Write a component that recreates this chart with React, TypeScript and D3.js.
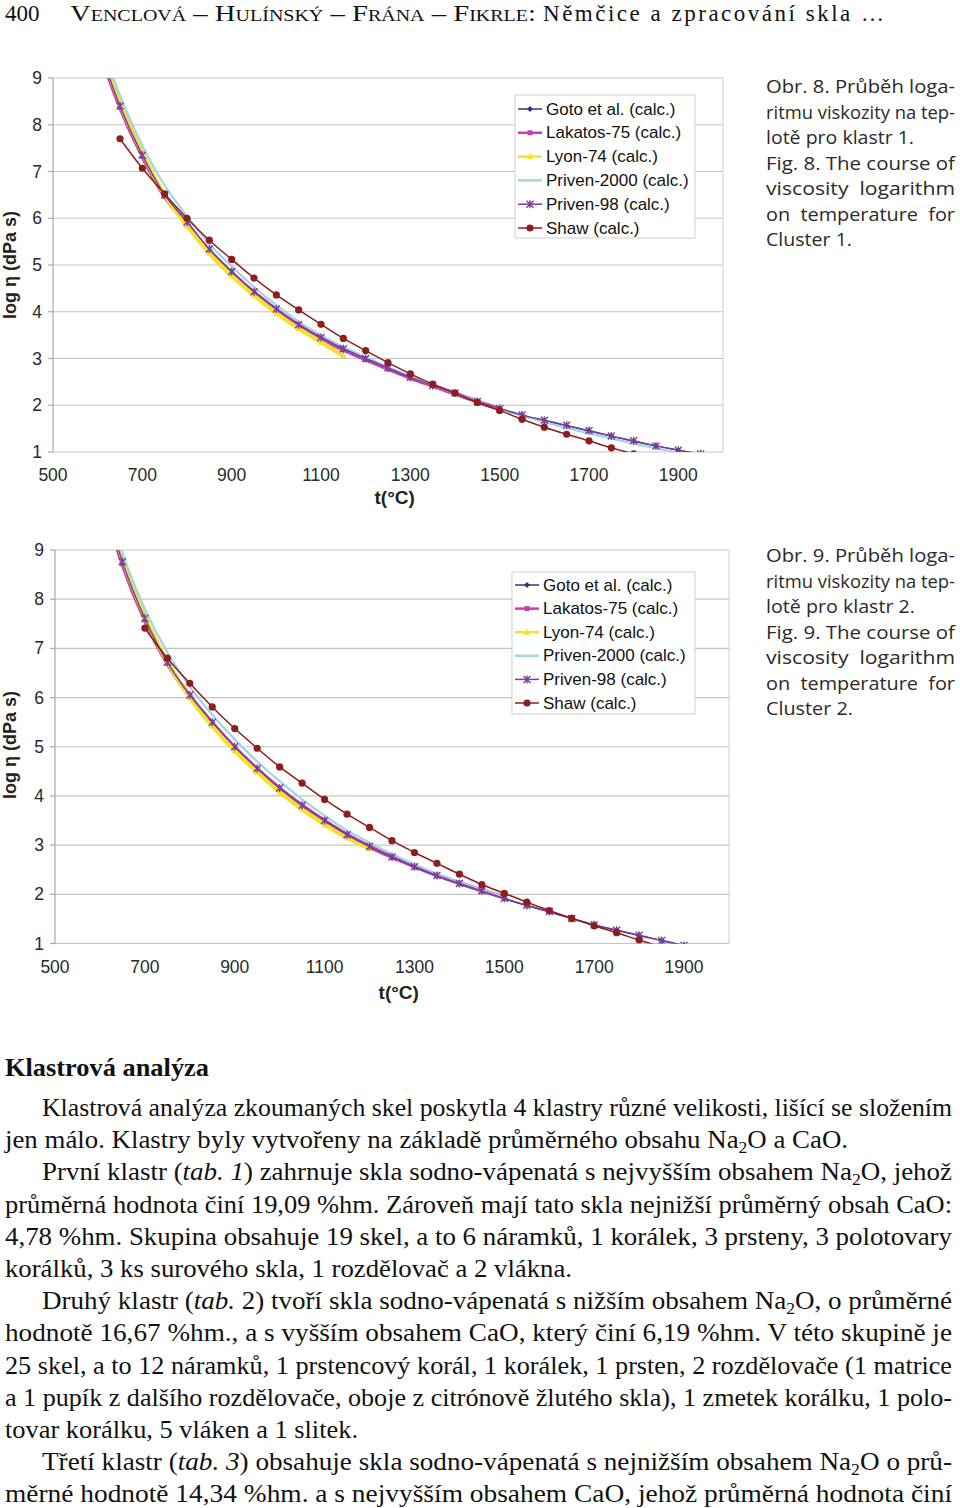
import React from 'react';
import * as d3 from 'd3';

// ---------- DATA ----------
const temps = [600, 650, 700, 750, 800, 850, 900, 950, 1000, 1050, 1100, 1150, 1200, 1250, 1300, 1350, 1400, 1450, 1500, 1550, 1600, 1650, 1700, 1750, 1800, 1850, 1900, 1950];
const xTicks = [500, 700, 900, 1100, 1300, 1500, 1700, 1900];
const yTicks = [1, 2, 3, 4, 5, 6, 7, 8, 9];
const seriesNames = ['Goto et al. (calc.)', 'Lakatos-75 (calc.)', 'Lyon-74 (calc.)', 'Priven-2000 (calc.)', 'Priven-98 (calc.)', 'Shaw (calc.)'];

// Fig. 8 – Cluster 1
const goto8 = [9.70, 8.37, 7.32, 6.48, 5.89, 5.31, 4.84, 4.41, 4.04, 3.70, 3.43, 3.19, 2.98, 2.78, 2.59, 2.41, 2.25, 2.08, 1.93, 1.79, 1.67, 1.56, 1.45, 1.34, 1.23, 1.13, 1.04, 0.95];
const lakatos8 = [9.72, 8.38, 7.33, 6.47, 5.88, 5.30, 4.83, 4.41, 4.04, 3.71, 3.43, 3.19, 2.98, 2.78, 2.59, 2.42, 2.25, 2.08, 1.92, null, null, null, null, null, null, null, null, null];
const lyon8 = [9.85, 8.46, 7.40, 6.50, 5.84, 5.25, 4.77, 4.35, 3.97, 3.64, 3.35, 3.06, null, null, null, null, null, null, null, null, null, null, null, null, null, null, null, null];
const priven2000_8 = [10.0, 8.62, 7.55, 6.70, 6.05, 5.45, 4.97, 4.53, 4.14, 3.79, 3.50, 3.25, 3.03, 2.82, 2.62, 2.43, 2.26, 2.09, 1.92, 1.77, 1.64, 1.52, 1.40, 1.29, 1.18, 1.08, 0.99, null];
const priven98_8 = [9.75, 8.40, 7.35, 6.50, 5.92, 5.34, 4.86, 4.43, 4.06, 3.72, 3.45, 3.21, 3.00, 2.80, 2.60, 2.42, 2.26, 2.08, 1.93, 1.79, 1.68, 1.57, 1.46, 1.34, 1.24, 1.13, 1.04, 0.96];
const shaw8 = [null, 7.70, 7.07, 6.52, 6.00, 5.53, 5.12, 4.72, 4.36, 4.04, 3.73, 3.43, 3.17, 2.91, 2.67, 2.45, 2.26, 2.06, 1.89, 1.70, 1.53, 1.38, 1.24, 1.09, 0.96, null, null, null];

// Fig. 9 – Cluster 2
const goto9 = [10.35, 8.73, 7.58, 6.70, 6.03, 5.48, 4.98, 4.54, 4.14, 3.79, 3.48, 3.20, 2.96, 2.75, 2.55, 2.37, 2.21, 2.06, 1.91, 1.77, 1.64, 1.51, 1.38, 1.27, 1.16, 1.06, 0.96, 0.86];
const lakatos9 = [10.3, 8.72, 7.58, 6.70, 6.03, 5.48, 4.98, 4.54, 4.15, 3.80, 3.49, 3.21, 2.97, 2.76, 2.57, 2.39, 2.23, 2.08, 1.94, null, null, null, null, null, null, null, null, null];
const lyon9 = [10.5, 8.82, 7.65, 6.73, 6.00, 5.42, 4.92, 4.48, 4.08, 3.73, 3.42, 3.15, 2.93, null, null, null, null, null, null, null, null, null, null, null, null, null, null, null];
const priven2000_9 = [10.7, 8.95, 7.80, 6.92, 6.22, 5.65, 5.15, 4.70, 4.30, 3.93, 3.60, 3.30, 3.05, 2.82, 2.61, 2.42, 2.25, 2.09, 1.94, null, null, null, null, null, null, null, null, null];
const priven98_9 = [10.4, 8.76, 7.61, 6.72, 6.05, 5.50, 5.00, 4.56, 4.16, 3.81, 3.50, 3.21, 2.97, 2.76, 2.56, 2.38, 2.22, 2.07, 1.92, 1.78, 1.65, 1.51, 1.38, 1.27, 1.17, 1.06, 0.96, 0.86];
const shaw9 = [null, null, 7.41, 6.80, 6.29, 5.81, 5.37, 4.97, 4.59, 4.26, 3.93, 3.63, 3.36, 3.09, 2.85, 2.63, 2.41, 2.20, 2.02, 1.84, 1.67, 1.51, 1.36, 1.22, 1.07, 0.93, null, null];

// ---------- TEXT ----------
const captionFig8 = ['Obr. 8. Průběh loga-', 'ritmu viskozity na tep-', 'lotě pro klastr 1.', 'Fig. 8. The course of', 'viscosity  logarithm', 'on  temperature  for', 'Cluster 1.'];
const captionFig9 = ['Obr. 9. Průběh loga-', 'ritmu viskozity na tep-', 'lotě pro klastr 2.', 'Fig. 9. The course of', 'viscosity  logarithm', 'on  temperature  for', 'Cluster 2.'];
const bodyLines = [
  'Klastrová analýza zkoumaných skel poskytla 4 klastry různé velikosti, lišící se složením',
  'jen málo. Klastry byly vytvořeny na základě průměrného obsahu Na₂O a CaO.',
  'První klastr (*tab. 1*) zahrnuje skla sodno-vápenatá s nejvyšším obsahem Na₂O, jehož',
  'průměrná hodnota činí 19,09 %hm. Zároveň mají tato skla nejnižší průměrný obsah CaO:',
  '4,78 %hm. Skupina obsahuje 19 skel, a to 6 náramků, 1 korálek, 3 prsteny, 3 polotovary',
  'korálků, 3 ks surového skla, 1 rozdělovač a 2 vlákna.',
  'Druhý klastr (*tab.* 2) tvoří skla sodno-vápenatá s nižším obsahem Na₂O, o průměrné',
  'hodnotě 16,67 %hm., a s vyšším obsahem CaO, který činí 6,19 %hm. V této skupině je',
  '25 skel, a to 12 náramků, 1 prstencový korál, 1 korálek, 1 prsten, 2 rozdělovače (1 matrice',
  'a 1 pupík z dalšího rozdělovače, oboje z citrónově žlutého skla), 1 zmetek korálku, 1 polo-',
  'tovar korálku, 5 vláken a 1 slitek.',
  'Třetí klastr (*tab. 3*) obsahuje skla sodno-vápenatá s nejnižším obsahem Na₂O o prů-',
  'měrné hodnotě 14,34 %hm. a s nejvyšším obsahem CaO, jehož průměrná hodnota činí',
];

// ---------- STYLES ----------
type MarkerType = 'diamond' | 'square' | 'triangle' | 'none' | 'star' | 'circle';
const styles: { color: string; width: number; marker: MarkerType }[] = [
  { color: '#34347e', width: 1.4, marker: 'diamond' },
  { color: '#c23fb0', width: 4.2, marker: 'square' },
  { color: '#f3e22c', width: 4.2, marker: 'triangle' },
  { color: '#9ed6e6', width: 2.2, marker: 'none' },
  { color: '#7a3d98', width: 1.4, marker: 'star' },
  { color: '#8e1e1e', width: 1.5, marker: 'circle' },
];

const SANS = '"Liberation Sans", Arial, sans-serif';
const SERIF = '"Liberation Serif", "Times New Roman", serif';
const CAPSANS = '"Open Sans", "Noto Sans", sans-serif';

function Marker({ type, x, y, color }: { type: MarkerType; x: number; y: number; color: string }) {
  if (type === 'circle') return <circle cx={x} cy={y} r={3.6} fill={color} />;
  if (type === 'square') return <rect x={x - 2.5} y={y - 2.5} width={5} height={5} fill={color} />;
  if (type === 'diamond') return <path d={`M${x},${y - 3}L${x + 3},${y}L${x},${y + 3}L${x - 3},${y}Z`} fill={color} />;
  if (type === 'triangle') return <path d={`M${x},${y - 3.5}L${x + 3.5},${y + 2.5}L${x - 3.5},${y + 2.5}Z`} fill={color} />;
  if (type === 'star')
    return (
      <path
        d={`M${x - 3.5},${y - 3.5}L${x + 3.5},${y + 3.5}M${x - 3.5},${y + 3.5}L${x + 3.5},${y - 3.5}M${x},${y - 4}L${x},${y + 4}`}
        stroke={color}
        strokeWidth={1.4}
      />
    );
  return null;
}

type ChartProps = {
  id: string;
  data: (number | null)[][];
  left: number; right: number; top: number; bottom: number;
  legend: { x0: number; x1: number; y0: number; y1: number; row0: number; step: number };
  xLabelY: number; tLabelY: number; yLabelY: number; yTickRight: number;
};

function Chart(p: ChartProps) {
  const x = d3.scaleLinear().domain([500, 2000]).range([p.left, p.right]);
  const y = d3.scaleLinear().domain([1, 9]).range([p.bottom, p.top]);
  const line = d3
    .line<[number, number | null]>()
    .defined((d) => d[1] !== null)
    .x((d) => x(d[0]))
    .y((d) => y(d[1] as number))
    .curve(d3.curveCatmullRom.alpha(0.5));
  const clipId = `clip-${p.id}`;
  return (
    <g>
      <defs>
        <clipPath id={clipId}>
          <rect x={p.left} y={p.top} width={p.right - p.left} height={p.bottom - p.top} />
        </clipPath>
      </defs>
      <rect x={p.left} y={p.top} width={p.right - p.left} height={p.bottom - p.top} fill="#fff" />
      {yTicks.map((t) => (
        <line key={t} x1={p.left} x2={p.right} y1={y(t)} y2={y(t)} stroke="#c4c4c4" strokeWidth={1.2} />
      ))}
      <line x1={p.right} x2={p.right} y1={p.top} y2={p.bottom} stroke="#d0d0d0" strokeWidth={1} />
      <line x1={p.left} x2={p.left} y1={p.top} y2={p.bottom} stroke="#a8a8a8" strokeWidth={1.2} />
      {yTicks.map((t) => (
        <line key={'tk' + t} x1={p.left - 5} x2={p.left} y1={y(t)} y2={y(t)} stroke="#a8a8a8" strokeWidth={1.2} />
      ))}
      {yTicks.map((t) => (
        <text key={'yl' + t} x={p.yTickRight} y={y(t)} dominantBaseline="central" textAnchor="end" fontFamily={SANS} fontSize={17.5} fill="#2a2a2a">
          {t}
        </text>
      ))}
      {xTicks.map((t) => (
        <text key={'xl' + t} x={x(t)} y={p.xLabelY} textAnchor="middle" fontFamily={SANS} fontSize={17.5} fill="#2a2a2a">
          {t}
        </text>
      ))}
      <text x={x(1265)} y={p.tLabelY} textAnchor="middle" fontFamily={SANS} fontSize={19} fontWeight="bold" fill="#222">
        t(°C)
      </text>
      <text transform={`translate(16,${p.yLabelY}) rotate(-90)`} textAnchor="middle" fontFamily={SANS} fontSize={18} fontWeight="bold" fill="#222">
        log η (dPa s)
      </text>
      <g clipPath={`url(#${clipId})`}>
        {p.data.map((vals, i) => {
          const pts = temps.map((t, k) => [t, vals[k]] as [number, number | null]);
          return (
            <g key={i}>
              <path d={line(pts) || ''} fill="none" stroke={styles[i].color} strokeWidth={styles[i].width} strokeLinejoin="round" />
              {pts
                .filter((d) => d[1] !== null)
                .map((d, k) => (
                  <Marker key={k} type={styles[i].marker} x={x(d[0])} y={y(d[1] as number)} color={styles[i].color} />
                ))}
            </g>
          );
        })}
      </g>
      <rect x={p.legend.x0} y={p.legend.y0} width={p.legend.x1 - p.legend.x0} height={p.legend.y1 - p.legend.y0} fill="#fff" stroke="#cfcfcf" strokeWidth={1} />
      {seriesNames.map((n, i) => {
        const ly = p.legend.row0 + i * p.legend.step;
        const lx = p.legend.x0 + 3;
        return (
          <g key={n}>
            <line x1={lx} x2={lx + 24} y1={ly} y2={ly} stroke={styles[i].color} strokeWidth={i === 1 || i === 2 || i === 3 ? 2.5 : 1.5} />
            <Marker type={styles[i].marker} x={lx + 12} y={ly} color={styles[i].color} />
            <text x={lx + 28} y={ly} dominantBaseline="central" fontFamily={SANS} fontSize={17} fill="#111">
              {n}
            </text>
          </g>
        );
      })}
    </g>
  );
}

function BodyLine({ text, x0, x1, y }: { text: string; x0: number; x1: number; y: number }) {
  const parts = text.split(/(\*[^*]+\*|₂)/).filter((s) => s.length);
  const kids: React.ReactNode[] = [];
  let sub = false;
  parts.forEach((s, i) => {
    if (s === '₂') {
      kids.push(
        <tspan key={i} fontSize={17} dy={5}>
          2
        </tspan>
      );
      sub = true;
    } else {
      const it = s.startsWith('*');
      const t = it ? s.slice(1, -1) : s;
      kids.push(
        <tspan key={i} fontStyle={it ? 'italic' : undefined} dy={sub ? -5 : undefined}>
          {t}
        </tspan>
      );
      sub = false;
    }
  });
  return (
    <text x={x0} y={y} fontFamily={SERIF} fontSize={26} fill="#111" textLength={x1 - x0} lengthAdjust="spacingAndGlyphs">
      {kids}
    </text>
  );
}

function Caption({ lines, top, ends }: { lines: string[]; top: number; ends: number[] }) {
  return (
    <g>
      {lines.map((l, i) => (
        <text
          key={i}
          x={766}
          y={top + i * 25.5}
          fontFamily={CAPSANS}
          fontSize={18.5}
          fill="#2a2a2a"
          textLength={ends[i] - 766}
          lengthAdjust="spacingAndGlyphs"
          style={{ whiteSpace: 'pre' }}
        >
          {l}
        </text>
      ))}
    </g>
  );
}

export default function App() {
  const capEnds1 = [955, 955, 914, 955, 955, 955, 852];
  const capEnds2 = [955, 955, 915, 955, 955, 955, 853];
  const bodyGeom = [
    [42, 952], [5, 848], [42, 952], [5, 952], [5, 952], [5, 572], [42, 952], [5, 952], [5, 952], [5, 952], [5, 358], [42, 952], [5, 952],
  ];
  return (
    <svg width={960} height={1508} style={{ position: 'absolute', left: 0, top: 0, background: '#fff' }}>
      <rect width={960} height={1508} fill="#fff" />
      {/* header */}
      <text x={5} y={21} fontFamily={SERIF} fontSize={23} fill="#111">400</text>
      <text x={70} y={21} fontFamily={SERIF} fontSize={23} fill="#111" style={{ fontVariant: 'small-caps' }} textLength={466} lengthAdjust="spacingAndGlyphs">
        Venclová – Hulínský – Frána – Fikrle:
      </text>
      <text x={543} y={21} fontFamily={SERIF} fontSize={23} fill="#111" textLength={341} lengthAdjust="spacing">
        Němčice a zpracování skla …
      </text>

      <Chart
        id="c1"
        data={[goto8, lakatos8, lyon8, priven2000_8, priven98_8, shaw8]}
        left={53} right={723} top={78} bottom={452}
        legend={{ x0: 515, x1: 695, y0: 95, y1: 238, row0: 109, step: 23.8 }}
        xLabelY={481} tLabelY={504} yLabelY={265} yTickRight={42}
      />
      <Caption lines={captionFig8} top={93} ends={capEnds1} />

      <Chart
        id="c2"
        data={[goto9, lakatos9, lyon9, priven2000_9, priven98_9, shaw9]}
        left={55} right={729} top={550} bottom={943.5}
        legend={{ x0: 512, x1: 695, y0: 572, y1: 714, row0: 585, step: 23.6 }}
        xLabelY={973} tLabelY={999} yLabelY={745} yTickRight={44}
      />
      <Caption lines={captionFig9} top={562} ends={capEnds2} />

      <text x={5} y={1076} fontFamily={SERIF} fontSize={26} fontWeight="bold" fill="#111" textLength={204} lengthAdjust="spacingAndGlyphs">
        Klastrová analýza
      </text>
      {bodyLines.map((l, i) => (
        <BodyLine key={i} text={l} x0={bodyGeom[i][0]} x1={bodyGeom[i][1]} y={1116 + i * 32.2} />
      ))}
    </svg>
  );
}
